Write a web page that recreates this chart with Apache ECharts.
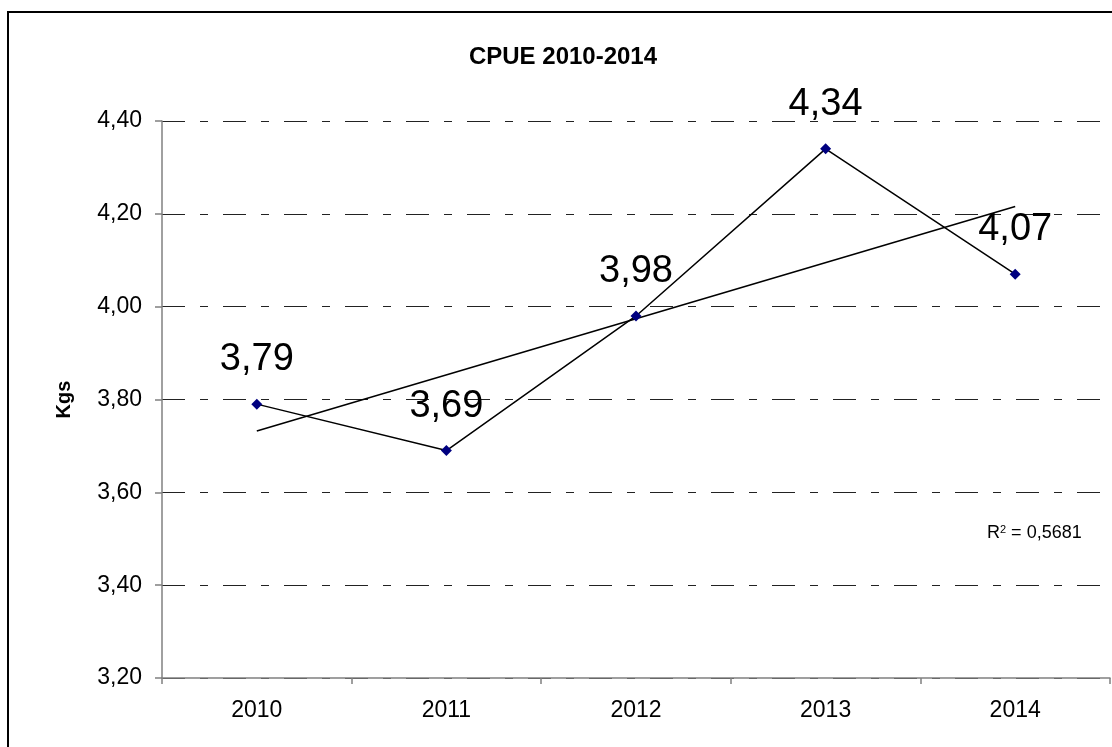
<!DOCTYPE html>
<html><head><meta charset="utf-8">
<script src="https://cdn.jsdelivr.net/npm/echarts@6/dist/echarts.min.js"></script>
<style>html,body{margin:0;padding:0;background:#fff}#c{width:1112px;height:747px}</style>
</head><body><div id="c"></div>
<script>
const categories = ['2010','2011','2012','2013','2014'];
const cpue = [3.79, 3.69, 3.98, 4.34, 4.07];
const trendEnds = [3.732, 4.216]; // linear trend at 2010 and 2014
const yTicks = { min: 3.2, max: 4.4, interval: 0.2 };
const rSquared = '0,5681';

const fmt = v => v.toFixed(2).replace('.', ',');
const trend = categories.map((c, i) => i === 0 ? trendEnds[0] : (i === categories.length - 1 ? trendEnds[1] : '-'));
const FONT = 'Liberation Sans, Arial, sans-serif';

const chart = echarts.init(document.getElementById('c'));
chart.setOption({
  animation: false,
  backgroundColor: '#fff',
  textStyle: { fontFamily: FONT },
  title: {
    text: 'CPUE 2010-2014', left: 558, top: 40, textAlign: 'center',
    textStyle: { fontSize: 24, fontWeight: 'bold', color: '#000', fontFamily: FONT }
  },
  grid: { left: 162, right: 2, top: 121, bottom: 69 },
  xAxis: {
    type: 'category', data: categories, boundaryGap: true,
    axisLine: { lineStyle: { color: '#808080', width: 1.5 } },
    axisTick: { show: true, length: 6, lineStyle: { color: '#808080', width: 1.5 } },
    axisLabel: { fontSize: 23, color: '#000', margin: 21 }
  },
  yAxis: {
    type: 'value', min: yTicks.min, max: yTicks.max, interval: yTicks.interval,
    name: 'Kgs', nameLocation: 'middle', nameGap: 88, nameRotate: 90,
    nameTextStyle: { fontSize: 20, fontWeight: 'bold', color: '#000' },
    axisLine: { show: true, lineStyle: { color: '#808080', width: 1.5 } },
    axisTick: { show: true, length: 7, lineStyle: { color: '#808080', width: 1.5 } },
    axisLabel: { fontSize: 23, color: '#000', margin: 20, formatter: fmt },
    splitLine: { show: true, lineStyle: { color: '#222', width: 1, type: [23, 15, 8, 15] } }
  },
  series: [
    {
      type: 'line', data: trend, connectNulls: true, symbol: 'none',
      lineStyle: { color: '#000', width: 1.5 }, z: 2, silent: true
    },
    {
      type: 'line', data: cpue, symbol: 'diamond', symbolSize: 11,
      itemStyle: { color: '#000080' },
      lineStyle: { color: '#000', width: 1.5 },
      label: { show: true, position: 'top', distance: 20, fontSize: 38, color: '#000', formatter: p => fmt(p.value) },
      z: 3
    }
  ],
  graphic: [
    { type: 'rect', shape: { x: 8, y: 12, width: 1110, height: 760 }, style: { fill: 'none', stroke: '#000', lineWidth: 2 }, silent: true },
    { type: 'text', left: 987, top: 524, style: { rich: { a: { fontSize: 18, fill: '#000', fontFamily: FONT }, s: { fontSize: 11, fill: '#000', verticalAlign: 'top', padding: [0,0,8,0], fontFamily: FONT } }, text: '{a|R}{s|2}{a| = ' + rSquared + '}' } }
  ]
});
</script></body></html>
